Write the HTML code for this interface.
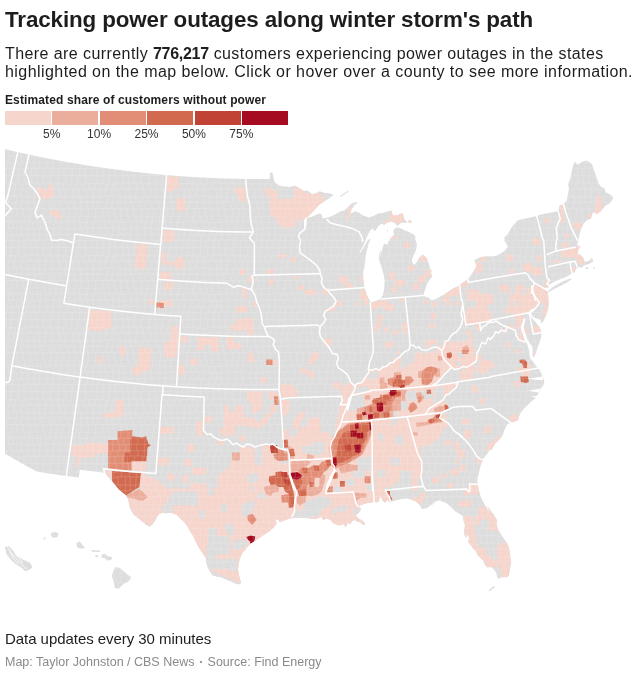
<!DOCTYPE html>
<html><head><meta charset="utf-8"><title>Tracking power outages along winter storm's path</title>
<style>
html,body{margin:0;padding:0;background:#fff;}
body{width:640px;height:675px;position:relative;overflow:hidden;font-family:"Liberation Sans",sans-serif;color:#1d1d1d;}
.abs{position:absolute;white-space:nowrap;}
#title{left:5px;top:6.5px;font-size:22.4px;font-weight:bold;line-height:26px;letter-spacing:-0.125px;}
#d1{left:5px;top:44.4px;font-size:16px;line-height:19px;letter-spacing:0.42px;}
#d1 b{letter-spacing:-0.3px;}
#d2{left:5px;top:62.2px;font-size:16px;line-height:19px;letter-spacing:0.44px;}
#lt{left:5px;top:93px;font-size:12px;font-weight:bold;line-height:14px;letter-spacing:0.12px;}
.sw{position:absolute;top:111.1px;width:46px;height:13.5px;}
.lb{position:absolute;top:127px;width:40px;text-align:center;font-size:12px;line-height:14px;color:#333;}
#f1{left:5px;top:630px;font-size:15px;line-height:18px;letter-spacing:-0.05px;}
#bu{font-size:8px;margin:0 1.7px;position:relative;top:-1.5px;}
#f2{left:5px;top:654.5px;font-size:12.5px;line-height:15px;color:#8a8a8a;}
</style></head><body>
<div class="abs" id="title">Tracking power outages along winter storm's path</div>
<div class="abs" id="d1">There are currently <b>776,217</b> customers experiencing power outages in the states</div>
<div class="abs" id="d2">highlighted on the map below. Click or hover over a county to see more information.</div>
<div class="abs" id="lt">Estimated share of customers without power</div>
<div class="sw" style="left:5.0px;background:#f5d5cc"></div><div class="sw" style="left:52.4px;background:#ecae9c"></div><div class="sw" style="left:99.8px;background:#e28e76"></div><div class="sw" style="left:147.2px;background:#d26a50"></div><div class="sw" style="left:194.6px;background:#c04335"></div><div class="sw" style="left:242.0px;background:#a50c22"></div><div class="lb" style="left:31.7px">5%</div><div class="lb" style="left:79.1px">10%</div><div class="lb" style="left:126.5px">25%</div><div class="lb" style="left:173.9px">50%</div><div class="lb" style="left:221.3px">75%</div>
<svg width="640" height="675" viewBox="0 0 640 675" style="position:absolute;left:0;top:0"><defs><clipPath id="c"><rect x="5" y="140" width="630" height="470"/></clipPath><clipPath id="land"><path d="M-4.5,146.9L6.7,149.6L17.9,152.2L29.2,154.6L40.5,157L51.8,159.2L63.2,161.3L74.5,163.3L85.9,165.2L97.3,167L108.7,168.6L120.2,170.1L131.6,171.5L143.1,172.8L154.6,174L166.1,175L177.6,175.9L189.1,176.7L200.6,177.4L212.1,178L223.6,178.4L235.2,178.7L246.7,178.9L258.2,179L269.8,179L270,172.5L272.5,172.5L273.5,178L275,182.5L280,186L290,187L295,185.5L300,188.5L303.9,190.9L307.8,190.6L311.7,194.1L315.6,193.3L319.5,191.3L323.4,192.5L328.9,193.3L333.6,194.8L329.7,198L323.4,201.9L318.8,205L314.1,210.5L309.4,215.2L306.3,218L311.7,216.7L316.4,214.7L320.3,213.3L321.9,215.2L322.8,218.8L324.2,218L325.8,218L331.3,216.3L336.7,213.6L341.4,210.9L344.5,210.5L347.7,207.3L351.6,203.4L355.5,201.9L358.1,202.3L354.7,205L351.6,208.9L350.3,213.6L352.3,213.1L354.7,211.3L358.6,212.5L362.5,215.2L368.8,217.5L373.4,215.9L378.1,213.6L382.8,213.1L388.3,211.3L391.9,210.6L392.5,215L396.9,215.6L400,213.8L403.1,213.5L403.8,218.1L405.6,220.6L407.5,222.3L405,223L401.3,222.8L398.1,225.4L396.5,225.4L395,223.1L391.3,221.3L386.3,223.1L384,225.3L382.5,223.8L380,224.4L377.5,227.5L375,231.3L372.5,228.8L370,230.6L367.8,235.3L365,241.9L362.2,247.5L359.4,252.7L360.5,252.7L364.1,246.6L367.3,240.9L370.2,238.6L370.2,240L368.7,243.3L367.3,248.4L366.1,253.1L365.5,256.9L365,262.5L364.1,270L363.4,268.8L363.1,278.1L364.4,287.5L367,295.3L369.4,300L371.3,302.7L375.6,300.9L380.3,298.9L382.8,295.3L384.2,289.1L384.7,281.3L383.4,273.4L381.1,265.6L378.8,259.4L379.5,253.1L381.1,250L380,257.5L381.3,252.5L382.5,248.8L383.1,245.6L384.4,243.8L386.3,244L387.5,245L388.3,240L389,242.5L390,238.8L391.9,236.9L394.4,234.4L393.1,231.9L394.4,228.8L396.9,227.3L400,228.1L405,230.6L410,232.5L413.8,234.4L415.6,236.9L415,238.8L416.5,242.5L416.9,246.3L415.6,251.3L413.1,256.3L411.9,260L412.5,263.1L414.4,265L416.9,261.9L419.4,257.5L423.1,254.4L426.9,258.1L428.8,263.8L430.6,270L431.6,268.8L431.1,273.4L432.2,276.6L429.5,279.7L427.2,283.6L424.8,290.6L423.3,295.3L425.6,296.9L428.8,297.7L431.1,300L434.2,299.7L438.1,297.7L442.8,295.3L447.5,292.2L452.2,289.1L456.9,286.7L460,284.4L464.1,282L468,278.9L471.1,275L474.2,270.3L476.6,265.6L475,262.5L474.2,260.2L477.3,258.6L481.3,257L486.7,256.3L492.2,256.6L496.9,255.5L501.6,253.1L504.7,250.8L507.8,246.9L506.6,243.8L504.7,241.4L504.4,237.5L507,235.2L509.4,231.3L511.7,227.3L514.8,223.4L518,220.3L536.7,216.1L540,214.8L558,210.9L560,204.7L561.9,204.7L563.4,203.9L566.6,200.8L567.8,195.3L568.9,189.1L568.1,184.4L570.5,178.1L572,170.3L573.6,164.1L575.2,161.7L577.5,164.8L582.2,161.7L586.1,160.6L590,162.5L592.3,164.8L593.9,170.3L596.3,176.6L598.6,183.6L601.7,187.5L604.1,187.5L605.6,192.2L608.8,193.8L611.1,195.3L613.4,197.7L611.9,200.8L608.8,203.9L605.6,205.5L603.3,208.6L601.7,210.2L600.2,211.7L597.8,213.3L596.6,214.1L595,212.8L593.4,212.2L591.9,215.3L590.8,218.8L588.4,219.5L586.1,221.1L583.8,223.4L582.2,226.6L580.6,230.5L579.8,233.6L579.1,237.5L578.3,239.8L576.7,243.8L577.5,246.9L580,230L579.2,236.3L577.7,240.9L576.9,245.6L580.8,246.4L578.4,249.5L577.7,253.4L581.6,255.8L583.9,258.9L584.7,262L589.4,260.5L591.7,258.1L590.6,255.8L592.5,258.9L593.3,261.3L590.2,263.6L586.3,264.7L583.9,265.2L582.3,267.5L580,267.5L578.4,266.7L576.9,268.3L576.1,269.1L574.5,272.2L572.2,273L570.6,274.5L565.9,276.9L561.3,278.8L556.6,280.8L551.9,283.1L549.5,284.7L548.4,287L548.4,289.4L548,292.5L548.4,297.2L548.8,303.4L548.4,308.1L546.4,314.4L544.1,319.8L541.7,323.8L541.6,323.8L540.5,320L538.1,319.1L535.3,318.1L533,316.7L531.1,313.4L529.7,312L529.1,313.1L530.6,316.3L532.2,318.3L535.6,322.2L539.5,326.9L541.1,331.6L541.6,333.1L541.1,337.8L539.5,342.5L537.2,348.8L535.6,353.4L534.1,356.6L533.3,358.1L532.5,355L532.8,350.3L532.2,346.4L529.4,342.5L527.2,339.4L525.9,334.7L524.4,330.8L523.8,326.9L524.7,322.2L525.2,318.3L523.9,317.5L522.2,323L520.6,326.9L521.1,330.8L523,334.7L524.1,339.4L526.6,342.8L528.1,346.4L529.1,351.1L529.4,355L530.6,359.4L531.7,359.7L535.6,365.2L538.8,369.4L538.9,368.4L541.3,373.4L543.6,378.9L544.4,382.8L542.8,385.9L540.5,388.3L538.9,392.2L536.6,396.9L533.4,400L530.3,402.3L527.2,405.5L524.1,408.6L520.9,412.5L518.6,417.2L518.1,420.3L513.9,421.9L510,422.2L506.9,425L504.5,429.7L503,434.4L501.4,437.5L498.3,440.6L495.2,443.8L492.8,447.7L491.3,450L489.5,450.3L486.4,455L483.3,458.9L481.7,462.8L480.2,467.5L479.1,472.2L477.8,476.9L477.5,481.6L477.8,484.7L479.1,490.9L480.9,497.2L484.1,503.4L487.2,508.9L491.1,514.4L494.2,519.1L496.6,523.8L498.1,530L486.9,505.5L491.6,511.7L495.5,517.2L497,520.3L496.6,525L498.6,530.5L501.7,535.2L504.8,539.8L508,544.5L509.5,550L510.3,556.3L511.1,562.5L510.3,567.2L509.5,571.9L508.8,575.8L507.2,577.3L501.7,577.3L498.6,578.9L497,576.6L496.3,572.7L493.9,569.5L491.6,567.2L486.9,567.2L484.5,564.1L483,560.2L479.1,557L477.5,554.7L475.9,551.6L473.6,549.2L471.3,546.1L468.1,542.2L469.1,538.3L467.8,534.7L466.3,538.3L464.5,535.6L464.2,530.5L465,525.8L463.4,520.3L463.1,516.4L458.8,513.3L455.6,511.7L450.9,507L446.3,503.1L443.4,501.9L439.5,500.3L435.6,501.6L430.9,504.2L426.3,506.6L422.3,507.3L420,505L435.3,503.6L430.6,505.2L426.7,508.3L422,509.1L419.7,505.2L416.6,502L411.9,499.7L407.2,498.4L402.5,498.9L397.8,499.7L393.1,501.3L390,502L386.9,500.5L385.3,502.8L383,501.3L380.9,497.3L379.8,496.9L379.1,501.3L376.7,502.8L374.4,502L369.7,502.8L365,503.6L361.1,505.2L358,505.9L359.5,507.5L361.1,508.3L360.3,510.6L358.8,513L355.6,515.3L358.8,518.4L362.7,520.8L365,523.1L364.2,525.5L361.9,523.9L360.3,522.3L357.2,521.6L354.8,520L352.5,520.8L350.2,523.9L347.8,523.1L346.6,525L345.6,527.5L344.4,525L343.1,523.9L340,525.5L336.7,524.7L332.8,523.1L330.5,520L326.6,518.4L323.4,520L321.1,516.9L318.8,517.7L315.6,519.2L310.9,518.4L304.7,517.7L298.4,517.7L293,517.7L287.5,519.2L283.6,520.8L279.7,522.3L278.1,519.2L275.8,520L276.6,523.9L273.4,527.8L268.8,531.7L264.1,534.8L259.4,538L254.7,541.1L250,544.2L247.3,547L245,550.2L242.7,552.5L241.1,555.6L239.5,560.3L238.4,565L238,569.7L238.8,574.4L240,579.1L241.1,583L238.8,584.5L234.8,583.4L230.9,581.4L226.3,579.8L221.6,577.5L216.9,576.7L212.2,575.2L209.8,571.3L207.5,566.6L206.3,561.9L205.9,558L203.6,554.8L200.5,550.2L197.3,544.7L195,540L192.7,535.3L189.5,530.6L187.2,525.9L184.1,522L180.9,518.9L177.8,515.8L174.7,514.2L170,513.4L177.7,515L173.8,513.4L169.8,512.7L165.9,513.4L162,512.7L158.9,514.2L156.6,517.3L155,521.3L152.7,524.4L149.5,526.7L145.6,524.4L141.7,521.3L137.8,518.1L133.9,515L130.8,510.3L129.2,505.6L128.4,500.2L126.1,495.5L123,493.1L119.1,490L115.2,485.3L111.3,480.6L106.6,475.2L103.4,470.5L104.5,472.7L92.1,471.3L79.8,469.8L78.8,477.6L64.7,475.7L50.7,473.7L36.7,471.5L23.8,464.6L-3.3,449L-13.9,441.5L-47.5,430.8L-20,520L-20,140ZM548.8,290.2L555,285.5L561.3,282.3L565.9,280L570.9,278.4L571.9,278.9L567.5,282.3L561.3,285.5L555,288.6L550.3,291.3L548.4,292.2ZM585.5,267.5L588.1,267.2L588.1,269.1L585.9,269.1ZM592.8,267.8L595,267.5L595,268.6L593.1,268.8ZM408.1,220.6L410,220L411.9,221.9L411.3,223.1L408.8,222.8ZM340,196.3L348.1,190.6L348.8,191.3L340.9,196.9ZM488.4,590.3L493.9,585.9L495,586.9L489.7,591.3ZM386.9,229.8L387.8,229.8L387.8,231.5L386.9,231.5ZM5,547L8.8,546.3L12.5,550L17.5,556.3L23.8,560L30,562.5L32.5,567.5L28.8,570L25,571.3L21.3,567.5L15,563.8L10,558.8L6.3,553.8ZM50.8,533.3L54.5,532L58,533L58.5,535.5L56.3,537.5L52.5,537.5L50.8,535.8ZM43,539.3L45,537L46,537.5L44,539.8ZM75.8,543.8L79.5,541.3L83.8,546.3L85,548L81.3,548.8L77.5,547.5ZM91.3,550L100,550.5L100,552L92,551.8ZM95.5,555L98,555L98,557.5L95.5,557ZM101.3,555L105,553.8L108,556.3L112,557L111.3,560L107.5,560.5L104.5,558L102,558ZM115.5,567L120,568L125,572.5L131.3,577.5L128.8,581.3L123.8,583.8L118.8,588.8L115,588L113.8,582.5L112,576.3L113,571.3Z"/></clipPath><pattern id="m" width="91" height="72" patternUnits="userSpaceOnUse"><path d="M0,0H13V-0.3H26V-0.2H39V-0.2H52V0H65V0.2H78V-0.1H91V0M4.4,0L4.8,6.1M11,0L10.5,6.1M18.2,0L18.1,6.1M24.5,0L24.8,6.1M29.9,0L29.4,6.1M37.3,0L37,6.1M44.9,0L45.3,6.1M50,0L49.7,6.1M56,0L55.8,6.1M61.3,0L61.7,6.1M68.3,0L68.5,6.1M73.4,0L73.8,6.1M79.5,0L79.8,6.1M87.7,0L87.3,6.1M0,6.1H13V6.1H26V6.3H39V6.2H52V6H65V5.8H78V6.3H91V6.1M1.7,6.1L1.5,12.4M8.5,6.1L8.7,12.4M13.8,6.1L13.8,12.4M21.7,6.1L21.4,12.4M27.3,6.1L27.3,12.4M32.6,6.1L32.3,12.4M40.2,6.1L40.3,12.4M46.8,6.1L46.7,12.4M54.1,6.1L53.7,12.4M60.2,6.1L59.8,12.4M69,6.1L69.2,12.4M74.6,6.1L75.1,12.4M80.4,6.1L79.9,12.4M85.7,6.1L85.4,12.4M0,12.4H13V12.2H26V12.7H39V12.2H52V12.2H65V12.9H78V12.4H91V12.4M2.7,12.4L2.3,18.8M9.7,12.4L9.9,18.8M17.1,12.4L16.9,18.8M21.9,12.4L21.6,18.8M28.7,12.4L28.7,18.8M34.6,12.4L34.7,18.8M39.8,12.4L39.8,18.8M45.7,12.4L45.8,18.8M53.3,12.4L53.7,18.8M59.6,12.4L59.7,18.8M67.4,12.4L67.4,18.8M74,12.4L73.6,18.8M81.7,12.4L81.9,18.8M87.1,12.4L87.3,18.8M0,18.8H13V19.1H26V18.4H39V18.7H52V18.6H65V18.3H78V18.2H91V18.8M2.2,18.8L1.9,24.5M7.2,18.8L7.1,24.5M12.3,18.8L12.3,24.5M19.1,18.8L19.1,24.5M26.9,18.8L26.8,24.5M33.1,18.8L33.3,24.5M39.2,18.8L39.3,24.5M47.1,18.8L46.9,24.5M53.3,18.8L53.3,24.5M61.1,18.8L61.1,24.5M68.5,18.8L68.6,24.5M74.6,18.8L74.7,24.5M79.9,18.8L80.1,24.5M86.8,18.8L87.1,24.5M0,24.5H13V24.8H26V24.2H39V24H52V24.8H65V24.7H78V24.6H91V24.5M6,24.5L5.6,31.9M11.7,24.5L11.7,31.9M18.8,24.5L18.4,31.9M23.8,24.5L23.9,31.9M31.3,24.5L31.7,31.9M36.5,24.5L36.6,31.9M43.7,24.5L43.3,31.9M51.6,24.5L51.9,31.9M59.1,24.5L58.6,31.9M64.1,24.5L63.6,31.9M72.1,24.5L72.6,31.9M79.7,24.5L79.7,31.9M85.2,24.5L84.8,31.9M0.3,24.5L0.2,31.9M0,31.9H13V31.3H26V31.4H39V31.9H52V31.4H65V31.5H78V31.6H91V31.9M0.1,31.9L-0.3,39.5M6.1,31.9L6.2,39.5M11.3,31.9L11.4,39.5M18.4,31.9L18.4,39.5M25.3,31.9L25.4,39.5M31.8,31.9L32,39.5M37.2,31.9L37.6,39.5M43.1,31.9L43.2,39.5M50.2,31.9L50.1,39.5M58.3,31.9L58.5,39.5M65.6,31.9L65.8,39.5M71.1,31.9L71.3,39.5M78.1,31.9L77.7,39.5M85.7,31.9L85.7,39.5M0,39.5H13V40.1H26V39H39V39.2H52V39.8H65V40H78V40H91V39.5M4.5,39.5L4.6,45.3M10.4,39.5L10.2,45.3M15.2,39.5L15.4,45.3M22.2,39.5L22.4,45.3M30.3,39.5L30.1,45.3M38.2,39.5L38.6,45.3M46,39.5L45.6,45.3M52.2,39.5L52.3,45.3M57.8,39.5L58.1,45.3M63.6,39.5L63.3,45.3M70,39.5L70.3,45.3M76.9,39.5L76.5,45.3M82.9,39.5L83.4,45.3M89.2,39.5L89.4,45.3M0,45.3H13V45.8H26V44.7H39V45H52V45.2H65V45.9H78V45H91V45.3M2.5,45.3L2.8,52.6M8.2,45.3L8.3,52.6M14.4,45.3L14,52.6M20.9,45.3L20.9,52.6M27,45.3L27.4,52.6M34.3,45.3L34.6,52.6M39.1,45.3L39.1,52.6M45.1,45.3L44.9,52.6M52.7,45.3L53.1,52.6M60.3,45.3L59.9,52.6M65.5,45.3L65.9,52.6M73,45.3L73.3,52.6M79.3,45.3L79.2,52.6M86.5,45.3L86.7,52.6M0,52.6H13V52.1H26V53.1H39V53.2H52V53.1H65V52.6H78V52.8H91V52.6M1.8,52.6L2.1,58.4M8.8,52.6L8.6,58.4M16.6,52.6L16.3,58.4M22.4,52.6L22,58.4M29.2,52.6L28.9,58.4M34.4,52.6L34.3,58.4M39.3,52.6L39.2,58.4M44.5,52.6L44.8,58.4M50.6,52.6L50.8,58.4M57.5,52.6L57.9,58.4M65.1,52.6L65.3,58.4M72.9,52.6L73.4,58.4M80.6,52.6L80.3,58.4M86.9,52.6L86.7,58.4M0,58.4H13V58H26V58.6H39V57.9H52V57.8H65V58.3H78V58.5H91V58.4M1.8,58.4L1.8,64.5M6.8,58.4L6.6,64.5M14.8,58.4L15,64.5M21.1,58.4L20.8,64.5M27.2,58.4L27.1,64.5M34.7,58.4L34.9,64.5M41.7,58.4L41.6,64.5M49,58.4L49.2,64.5M53.8,58.4L54.2,64.5M60.9,58.4L60.7,64.5M68.6,58.4L68.1,64.5M74.5,58.4L74.8,64.5M80.8,58.4L80.6,64.5M87.1,58.4L87.6,64.5M0,64.5H13V64.5H26V65H39V64.9H52V64.7H65V64.2H78V64.8H91V64.5M4.7,64.5L4.8,72M12.2,64.5L12.5,72M16.8,64.5L17.1,72M23.4,64.5L23.3,72M30.5,64.5L30,72M36.8,64.5L36.5,72M43.1,64.5L43.2,72M50.8,64.5L50.8,72M57.2,64.5L57.2,72M62.8,64.5L62.4,72M69.4,64.5L69.5,72M76.4,64.5L76.7,72M82,64.5L81.7,72M88.5,64.5L88.2,72" fill="none" stroke="#fff" stroke-opacity="0.27" stroke-width="0.5"/></pattern></defs><g clip-path="url(#c)"><path fill="#dddddd" d="M-4.5,146.9L6.7,149.6L17.9,152.2L29.2,154.6L40.5,157L51.8,159.2L63.2,161.3L74.5,163.3L85.9,165.2L97.3,167L108.7,168.6L120.2,170.1L131.6,171.5L143.1,172.8L154.6,174L166.1,175L177.6,175.9L189.1,176.7L200.6,177.4L212.1,178L223.6,178.4L235.2,178.7L246.7,178.9L258.2,179L269.8,179L270,172.5L272.5,172.5L273.5,178L275,182.5L280,186L290,187L295,185.5L300,188.5L303.9,190.9L307.8,190.6L311.7,194.1L315.6,193.3L319.5,191.3L323.4,192.5L328.9,193.3L333.6,194.8L329.7,198L323.4,201.9L318.8,205L314.1,210.5L309.4,215.2L306.3,218L311.7,216.7L316.4,214.7L320.3,213.3L321.9,215.2L322.8,218.8L324.2,218L325.8,218L331.3,216.3L336.7,213.6L341.4,210.9L344.5,210.5L347.7,207.3L351.6,203.4L355.5,201.9L358.1,202.3L354.7,205L351.6,208.9L350.3,213.6L352.3,213.1L354.7,211.3L358.6,212.5L362.5,215.2L368.8,217.5L373.4,215.9L378.1,213.6L382.8,213.1L388.3,211.3L391.9,210.6L392.5,215L396.9,215.6L400,213.8L403.1,213.5L403.8,218.1L405.6,220.6L407.5,222.3L405,223L401.3,222.8L398.1,225.4L396.5,225.4L395,223.1L391.3,221.3L386.3,223.1L384,225.3L382.5,223.8L380,224.4L377.5,227.5L375,231.3L372.5,228.8L370,230.6L367.8,235.3L365,241.9L362.2,247.5L359.4,252.7L360.5,252.7L364.1,246.6L367.3,240.9L370.2,238.6L370.2,240L368.7,243.3L367.3,248.4L366.1,253.1L365.5,256.9L365,262.5L364.1,270L363.4,268.8L363.1,278.1L364.4,287.5L367,295.3L369.4,300L371.3,302.7L375.6,300.9L380.3,298.9L382.8,295.3L384.2,289.1L384.7,281.3L383.4,273.4L381.1,265.6L378.8,259.4L379.5,253.1L381.1,250L380,257.5L381.3,252.5L382.5,248.8L383.1,245.6L384.4,243.8L386.3,244L387.5,245L388.3,240L389,242.5L390,238.8L391.9,236.9L394.4,234.4L393.1,231.9L394.4,228.8L396.9,227.3L400,228.1L405,230.6L410,232.5L413.8,234.4L415.6,236.9L415,238.8L416.5,242.5L416.9,246.3L415.6,251.3L413.1,256.3L411.9,260L412.5,263.1L414.4,265L416.9,261.9L419.4,257.5L423.1,254.4L426.9,258.1L428.8,263.8L430.6,270L431.6,268.8L431.1,273.4L432.2,276.6L429.5,279.7L427.2,283.6L424.8,290.6L423.3,295.3L425.6,296.9L428.8,297.7L431.1,300L434.2,299.7L438.1,297.7L442.8,295.3L447.5,292.2L452.2,289.1L456.9,286.7L460,284.4L464.1,282L468,278.9L471.1,275L474.2,270.3L476.6,265.6L475,262.5L474.2,260.2L477.3,258.6L481.3,257L486.7,256.3L492.2,256.6L496.9,255.5L501.6,253.1L504.7,250.8L507.8,246.9L506.6,243.8L504.7,241.4L504.4,237.5L507,235.2L509.4,231.3L511.7,227.3L514.8,223.4L518,220.3L536.7,216.1L540,214.8L558,210.9L560,204.7L561.9,204.7L563.4,203.9L566.6,200.8L567.8,195.3L568.9,189.1L568.1,184.4L570.5,178.1L572,170.3L573.6,164.1L575.2,161.7L577.5,164.8L582.2,161.7L586.1,160.6L590,162.5L592.3,164.8L593.9,170.3L596.3,176.6L598.6,183.6L601.7,187.5L604.1,187.5L605.6,192.2L608.8,193.8L611.1,195.3L613.4,197.7L611.9,200.8L608.8,203.9L605.6,205.5L603.3,208.6L601.7,210.2L600.2,211.7L597.8,213.3L596.6,214.1L595,212.8L593.4,212.2L591.9,215.3L590.8,218.8L588.4,219.5L586.1,221.1L583.8,223.4L582.2,226.6L580.6,230.5L579.8,233.6L579.1,237.5L578.3,239.8L576.7,243.8L577.5,246.9L580,230L579.2,236.3L577.7,240.9L576.9,245.6L580.8,246.4L578.4,249.5L577.7,253.4L581.6,255.8L583.9,258.9L584.7,262L589.4,260.5L591.7,258.1L590.6,255.8L592.5,258.9L593.3,261.3L590.2,263.6L586.3,264.7L583.9,265.2L582.3,267.5L580,267.5L578.4,266.7L576.9,268.3L576.1,269.1L574.5,272.2L572.2,273L570.6,274.5L565.9,276.9L561.3,278.8L556.6,280.8L551.9,283.1L549.5,284.7L548.4,287L548.4,289.4L548,292.5L548.4,297.2L548.8,303.4L548.4,308.1L546.4,314.4L544.1,319.8L541.7,323.8L541.6,323.8L540.5,320L538.1,319.1L535.3,318.1L533,316.7L531.1,313.4L529.7,312L529.1,313.1L530.6,316.3L532.2,318.3L535.6,322.2L539.5,326.9L541.1,331.6L541.6,333.1L541.1,337.8L539.5,342.5L537.2,348.8L535.6,353.4L534.1,356.6L533.3,358.1L532.5,355L532.8,350.3L532.2,346.4L529.4,342.5L527.2,339.4L525.9,334.7L524.4,330.8L523.8,326.9L524.7,322.2L525.2,318.3L523.9,317.5L522.2,323L520.6,326.9L521.1,330.8L523,334.7L524.1,339.4L526.6,342.8L528.1,346.4L529.1,351.1L529.4,355L530.6,359.4L531.7,359.7L535.6,365.2L538.8,369.4L538.9,368.4L541.3,373.4L543.6,378.9L544.4,382.8L542.8,385.9L540.5,388.3L538.9,392.2L536.6,396.9L533.4,400L530.3,402.3L527.2,405.5L524.1,408.6L520.9,412.5L518.6,417.2L518.1,420.3L513.9,421.9L510,422.2L506.9,425L504.5,429.7L503,434.4L501.4,437.5L498.3,440.6L495.2,443.8L492.8,447.7L491.3,450L489.5,450.3L486.4,455L483.3,458.9L481.7,462.8L480.2,467.5L479.1,472.2L477.8,476.9L477.5,481.6L477.8,484.7L479.1,490.9L480.9,497.2L484.1,503.4L487.2,508.9L491.1,514.4L494.2,519.1L496.6,523.8L498.1,530L486.9,505.5L491.6,511.7L495.5,517.2L497,520.3L496.6,525L498.6,530.5L501.7,535.2L504.8,539.8L508,544.5L509.5,550L510.3,556.3L511.1,562.5L510.3,567.2L509.5,571.9L508.8,575.8L507.2,577.3L501.7,577.3L498.6,578.9L497,576.6L496.3,572.7L493.9,569.5L491.6,567.2L486.9,567.2L484.5,564.1L483,560.2L479.1,557L477.5,554.7L475.9,551.6L473.6,549.2L471.3,546.1L468.1,542.2L469.1,538.3L467.8,534.7L466.3,538.3L464.5,535.6L464.2,530.5L465,525.8L463.4,520.3L463.1,516.4L458.8,513.3L455.6,511.7L450.9,507L446.3,503.1L443.4,501.9L439.5,500.3L435.6,501.6L430.9,504.2L426.3,506.6L422.3,507.3L420,505L435.3,503.6L430.6,505.2L426.7,508.3L422,509.1L419.7,505.2L416.6,502L411.9,499.7L407.2,498.4L402.5,498.9L397.8,499.7L393.1,501.3L390,502L386.9,500.5L385.3,502.8L383,501.3L380.9,497.3L379.8,496.9L379.1,501.3L376.7,502.8L374.4,502L369.7,502.8L365,503.6L361.1,505.2L358,505.9L359.5,507.5L361.1,508.3L360.3,510.6L358.8,513L355.6,515.3L358.8,518.4L362.7,520.8L365,523.1L364.2,525.5L361.9,523.9L360.3,522.3L357.2,521.6L354.8,520L352.5,520.8L350.2,523.9L347.8,523.1L346.6,525L345.6,527.5L344.4,525L343.1,523.9L340,525.5L336.7,524.7L332.8,523.1L330.5,520L326.6,518.4L323.4,520L321.1,516.9L318.8,517.7L315.6,519.2L310.9,518.4L304.7,517.7L298.4,517.7L293,517.7L287.5,519.2L283.6,520.8L279.7,522.3L278.1,519.2L275.8,520L276.6,523.9L273.4,527.8L268.8,531.7L264.1,534.8L259.4,538L254.7,541.1L250,544.2L247.3,547L245,550.2L242.7,552.5L241.1,555.6L239.5,560.3L238.4,565L238,569.7L238.8,574.4L240,579.1L241.1,583L238.8,584.5L234.8,583.4L230.9,581.4L226.3,579.8L221.6,577.5L216.9,576.7L212.2,575.2L209.8,571.3L207.5,566.6L206.3,561.9L205.9,558L203.6,554.8L200.5,550.2L197.3,544.7L195,540L192.7,535.3L189.5,530.6L187.2,525.9L184.1,522L180.9,518.9L177.8,515.8L174.7,514.2L170,513.4L177.7,515L173.8,513.4L169.8,512.7L165.9,513.4L162,512.7L158.9,514.2L156.6,517.3L155,521.3L152.7,524.4L149.5,526.7L145.6,524.4L141.7,521.3L137.8,518.1L133.9,515L130.8,510.3L129.2,505.6L128.4,500.2L126.1,495.5L123,493.1L119.1,490L115.2,485.3L111.3,480.6L106.6,475.2L103.4,470.5L104.5,472.7L92.1,471.3L79.8,469.8L78.8,477.6L64.7,475.7L50.7,473.7L36.7,471.5L23.8,464.6L-3.3,449L-13.9,441.5L-47.5,430.8L-20,520L-20,140ZM548.8,290.2L555,285.5L561.3,282.3L565.9,280L570.9,278.4L571.9,278.9L567.5,282.3L561.3,285.5L555,288.6L550.3,291.3L548.4,292.2ZM585.5,267.5L588.1,267.2L588.1,269.1L585.9,269.1ZM592.8,267.8L595,267.5L595,268.6L593.1,268.8ZM408.1,220.6L410,220L411.9,221.9L411.3,223.1L408.8,222.8ZM340,196.3L348.1,190.6L348.8,191.3L340.9,196.9ZM488.4,590.3L493.9,585.9L495,586.9L489.7,591.3ZM386.9,229.8L387.8,229.8L387.8,231.5L386.9,231.5ZM5,547L8.8,546.3L12.5,550L17.5,556.3L23.8,560L30,562.5L32.5,567.5L28.8,570L25,571.3L21.3,567.5L15,563.8L10,558.8L6.3,553.8ZM50.8,533.3L54.5,532L58,533L58.5,535.5L56.3,537.5L52.5,537.5L50.8,535.8ZM43,539.3L45,537L46,537.5L44,539.8ZM75.8,543.8L79.5,541.3L83.8,546.3L85,548L81.3,548.8L77.5,547.5ZM91.3,550L100,550.5L100,552L92,551.8ZM95.5,555L98,555L98,557.5L95.5,557ZM101.3,555L105,553.8L108,556.3L112,557L111.3,560L107.5,560.5L104.5,558L102,558ZM115.5,567L120,568L125,572.5L131.3,577.5L128.8,581.3L123.8,583.8L118.8,588.8L115,588L113.8,582.5L112,576.3L113,571.3Z"/><g clip-path="url(#land)"><path fill="#f5d5cc" d="M130,455.6L146.4,455.6L146.4,470.5L130,470.5ZM103.4,470.5L112.8,470.9L112.8,476.7L108.1,477.5ZM140.9,473.1L158.1,480.6L172.2,493.1L173.8,499.4L165.2,502.5L161.3,508.8L162.8,512.7L149.5,526.7L141.7,521.3L130.8,510.3L126.9,497L142.5,500.9L148,497L139.4,488.8ZM37.5,188L41.3,187L47.5,191.3L48.8,184.5L52.5,184.5L53,191.3L54.5,193.8L51.3,198L43.8,199.5L38.8,196.3ZM48.8,212.5L53.8,209.5L58.8,210L61.3,217.5L58,219.5L53.8,215L50,215.5ZM137,244.5L147.5,245L145.5,268.8L134.5,268ZM167,176.3L178.8,177L178.8,188.8L172.5,189.5L171.3,192.5L167,192.5ZM176.3,198.8L185,198L185.8,211.3L176.3,211.3ZM233.8,187.5L245,187L246.3,201.3L238,201.3L238,193.8L233.8,193ZM265,187.5L271.3,187.5L271.3,190L277.5,190.5L278,198.8L285,199.3L288.8,197L293.8,196.3L295,186.3L301.3,188.8L305,192.5L312.5,193.8L320,193L325,200L320,206.3L310,215L303.8,220L296.3,219.5L295,226.3L290,227.5L282.5,227.5L277.5,223.8L275.5,217.5L270,216.3L270,196.3L265,195.5ZM277,254.5L286.3,253.8L287,257.5L277.5,258ZM290.5,257L296.3,257L296.3,262L290.5,262ZM239.5,269.5L245.5,269.5L245.5,275L239.5,275ZM267,269.5L273.8,269.5L273.8,274.5L267,274.5ZM268,279.5L273.8,279.5L273.8,285L268,285ZM248,276.3L253,276.3L253,282.5L248,282.5ZM292,276.3L297.5,276.3L297.5,278.8L292,278.8ZM298,285L303.8,285L303.8,290L298,290ZM304.5,289.5L316.3,289.5L316.3,295L304.5,295ZM163,230.5L174.5,230.5L174.5,242L163,242ZM161.3,252.5L165.5,252.5L165.5,261.3L175.5,262L175.5,257.5L184.5,257L184.5,268L175.5,268.8L175,265L161.3,264.5ZM160,272L171.3,272L171.3,279.5L160,279.5ZM164.5,282L173,282L173,290L164.5,290ZM241.3,287.5L246.3,287.5L247.5,298.8L243.8,298.8ZM345,220L347.5,211.3L351.3,205.5L353.8,206.3L349.5,215L348,220.5ZM383,221.3L389.5,220L390,211.3L392.5,211.3L393,215L397.5,215L402.5,213L403.8,220L401.3,223L395,223.8L388.8,225L383.8,225ZM407.5,220L411.5,220L411.5,223L407.5,223ZM391.3,236.3L397.5,236.3L397.5,238.8L391.3,238.8ZM403.8,242.5L409.5,242.5L409.5,248L403.8,248ZM418.8,257.5L422.5,253.8L427.5,259.5L426.3,261.3L418.8,261.3ZM407.5,266.3L413.8,265L415,270L408,272ZM389.5,272L395,272L395,280L389.5,280ZM395,280L405,280L405,286.3L395,286.3ZM391.3,287L397,287L397,292L391.3,292ZM412.5,283.8L418.8,282.5L419.5,289.5L413,290ZM417.5,276.3L425,275L425.5,282L418,283ZM425,270L430,270L431.3,277.5L425,277.5ZM338.8,276.3L348,276.3L348,283L338.8,283ZM345,283L352.5,283L352.5,288L345,288ZM361.3,276.3L364.5,276.3L364.5,282.5L361.3,282.5ZM322.5,289.5L327.5,289.5L328.8,294.5L323,294.5ZM361.3,290L366.3,290L368.8,300L362.5,300ZM460,282.5L467.5,278.8L468.8,285L461.3,287.5ZM451.3,287.5L458.8,287.5L458.8,296.3L451.3,296.3ZM444.5,292.5L450,290L451.3,296.3L445,298.8ZM467,289.5L473.8,289.5L475,300L467.5,300ZM476.3,262.5L480,261.3L481.3,272.5L476.3,271.3ZM597,196.3L600,194.5L601.3,202.5L603.8,205.5L599.5,212.5L596.3,215L593.8,212.5L595.5,206.3ZM588,215L592,213.8L593,218L589.5,219.5ZM572.5,223.8L576.3,222L583,223.8L581.3,227.5L577.5,231.3L574.5,227.5ZM559.5,205.5L562.5,205.5L565,222.5L560.5,222.5ZM563.8,232.5L568.8,233.8L570,237.5L564.5,237ZM561.3,243L567.5,242.5L569.5,246.3L562,248ZM544.5,218L549.5,218L549.5,223L544.5,223ZM532.5,238.8L540,238L540.5,245L533,245.5ZM507,254.5L513,254.5L513,261.3L507,261.3ZM480,257L486.3,256.3L486.3,260L480,261.3ZM522.5,265L530,262.5L533.8,267.5L541.3,266.3L542.5,275L536.3,276.3L530,272.5L523.8,271.3ZM536.3,255.5L541.3,255L542,261.3L537,262ZM509.5,270L513.8,268.8L514.5,273.8L510,274.5ZM561.3,251.3L573.8,247L580,246.3L578.8,252.5L582.5,256.3L585,260L581.3,266.3L577.5,262.5L576.3,257.5L567.5,257.5L561.3,257.5ZM552.5,260.5L561.3,259.5L561.3,263L552.5,263ZM572,267.5L575.5,267L576.3,272L572.5,272.5ZM568,269L571.5,268L571.5,270.5L568.5,271ZM480,265L482.5,264.5L482.5,272.5L480,272.5ZM498.8,285L507.5,284.5L511.3,290L505,292.5L500,290ZM515,285L521.3,286.3L523.8,290L530,290L531.3,296.3L525,300L517.5,295ZM510,292.5L517.5,295L521.3,300L510,300ZM533.8,285L540,287.5L545,290L546.3,300L533.8,300ZM545.5,280L548.8,279.5L548.8,285L545.5,286.3ZM537.5,288.8L545.5,287.5L547.5,300L538.8,300ZM89.5,310L111.3,311.3L111.3,323.8L113.8,325L110,328L101.3,331.3L88,330.5ZM118,346.3L122.5,346.3L125.5,350L125,356.3L120.5,356.3L119.5,350ZM97,356.3L101.3,357L103,362.5L98.8,363.8ZM138.8,347.5L151.3,348L150,370L142.5,372.5L136.3,377.5L133.8,373.8L131.3,368.8L137.5,365.5ZM116.3,400L123.8,400L123,416.3L113.8,417.5L103,417.5L102.5,413L114.5,412.5ZM147.5,300L155,300L155,303.5L147.5,303.5ZM160,300L172.5,300L172.5,306.3L160,307ZM236.3,306.3L247.5,305.5L247.5,312L236.3,312.5ZM253,301.3L257.5,301.3L257.5,307L253,307ZM230,324.5L236.3,323.8L236.3,318.8L253,318L253.8,335L247.5,335L247.5,330.5L230.5,330.5ZM171.3,326.3L178.8,326.3L178,341.3L176.3,357.5L163.8,357.5L164.5,342L170,341.3ZM180.5,336.3L187.5,336.3L187.5,342.5L180.5,342.5ZM197.5,337L218.8,337.5L218.8,351.3L211.3,351.3L211.3,345L203.8,345L203.8,350L197.5,350ZM226.3,337.5L233.8,337.5L233.8,343L241.3,343L241.3,348.8L227,349.5ZM247.5,352.5L253,353L254.5,362.5L248,362.5ZM190.5,358.8L197,358.8L197,365.5L190.5,365.5ZM178,365.5L184.5,365.5L184.5,374.5L178,374.5ZM272.5,359.5L277.5,359.5L277.5,364.5L272.5,364.5ZM260.5,377.5L266.3,377.5L266.3,383L260.5,383ZM280,383.8L292.5,384.5L297.5,391.3L297,397L280.5,397ZM312.5,353L318.8,353L318.8,358.8L312.5,362.5L308,361.3ZM300,368L307.5,369.5L310,372.5L314.5,372.5L313.8,377.5L308.8,376.3L303.8,373ZM246.3,391.3L262.5,391.3L262.5,410L258.8,410L255,413.8L251.3,412.5L252,405L247.5,400ZM268,391.3L277.5,391.3L278,396.3L273.8,396.3L272.5,400L268.8,398.8ZM270,405L276.3,405L277,412.5L271.3,413.8ZM223.8,405L228.8,405L229.5,411.3L235,411.3L236.3,405L242.5,405L243.8,417.5L255,417.5L256.3,422.5L265,417.5L267.5,410L271.3,415L267.5,422.5L258.8,428.8L253.8,427.5L245,426.3L236.3,425L235,435L223.8,436.3L220,432.5L219.5,428.8L223.8,427.5ZM205,416.3L211.3,415.5L212,422.5L205,423ZM196.3,421.3L202.5,421.3L202.5,436.3L196.3,436.3ZM160,427L173.8,427L173.8,433.8L160,433.8ZM280.5,400L290,400L288.8,412.5L283.8,417.5L281.3,410ZM298.8,412.5L305,411.3L305,417.5L298.8,422.5L293.8,427.5L292.5,422.5ZM308.8,417.5L320,417.5L321.3,432.5L310,431.3L307.5,425ZM238.8,435L246.3,436.3L246.3,441.3L238.8,441.3ZM217.5,440L223.8,440L223.8,445L217.5,445ZM187,444.5L194.5,444.5L194.5,452L187,452ZM239.5,447.5L252.5,447.5L253.8,461.3L239.5,461.3ZM262,446.3L270,446.3L270,461.3L262,461.3ZM282.5,430L288.8,430L290,438.8L283,438.8ZM288.8,436.3L300,437.5L302.5,450L290,452.5ZM300.5,427.5L307.5,427L308.8,435L301.3,435ZM315,433.8L321.3,433.8L321.3,440L315,440ZM431.4,312.5L435.6,312.5L435.6,318L431.4,318ZM429.1,323.1L434.5,323.1L434.5,328.1L429.1,328.1ZM393.1,330.9L397.5,330.9L397.5,334.7L393.1,334.7ZM403.3,323.4L406.4,323.4L407.2,332.8L403.8,333.1ZM390,342.2L392.3,342.2L392.3,346.9L390,346.9ZM426.3,340.3L436.9,339.8L436.9,343L430.6,344.5L426.3,344.5ZM423.6,300.8L428.3,300.8L428.3,303.1L423.6,303.1ZM432.2,302.3L436.1,302.3L436.1,306.3L432.2,306.3ZM447,300.8L450.2,300.8L450.2,305.5L447,305.5ZM455.6,301.6L460.3,301.6L460.3,304.7L455.6,304.7ZM390,304.7L393.9,304.7L393.9,309.4L390,309.4ZM475.9,299.2L483.8,299.2L483.8,302L475.9,302ZM466.6,308.6L477.5,307L483.8,307.8L490.8,310.9L490.8,320.6L465.8,324.7L463.4,317.2ZM443.9,346.9L446.3,341.9L450.2,340.9L452.5,343.8L457.2,340.6L463.4,343L469.7,338.3L472.8,345.3L475.2,351.6L475.2,360.2L471.3,362.5L466.6,367.2L463.4,366.4L458.8,368.8L454.1,369.5L451.7,367.2L448.6,364.1L444.7,360.2L442.3,355.5L441.6,350.8ZM465.8,330.5L470.8,330.5L470.8,335.2L465.8,335.2ZM470.5,335.9L472.8,335.9L472.8,340.6L470.5,340.6ZM475.6,323.4L479.8,323.4L479.8,330.5L475.9,329.7ZM477.5,365.6L483.8,364.8L484.5,369.5L479.8,373.4L477.5,370.3ZM481.4,360.9L490.8,360.2L490.8,365.6L483.8,364.8ZM471.3,385.2L476.7,385.2L476.7,389.8L471.3,389.8ZM475.2,355.5L482.2,354.7L482.2,359.4L475.6,360.2ZM407.2,365.6L413.4,362.5L415.8,353.1L420.5,352.3L423.6,354.7L428.3,351.6L432.2,353.1L436.9,348.4L441.6,351.3L442.3,355.5L444.7,360.2L448.6,364.1L451.7,367.2L447.8,371.1L443.9,375L440.8,378.9L436.9,382.8L432.2,385.6L421.3,387.2L413.4,388.3L405.6,389.1L396.3,390.3L390,390.9L390,373.4L396.3,368.8L400.9,369.5ZM390,391.4L432.2,386.3L458,382.5L456.4,387.5L452.5,390.6L449.4,393.8L445.5,395.3L443.1,400.8L390,400.8ZM377.3,315.5L382.8,314.7L382.8,319.4L381.3,320.2L381.3,326.4L377.3,326.4L377.3,321.7ZM373.4,326.4L377.3,326.4L377.3,331.9L373.4,331.9ZM383.6,327.2L388.8,327.2L388.8,331.9L383.6,331.9ZM393.8,330.3L398.1,330.3L398.1,335L393.8,335ZM385.2,342L393,341.3L393,347.5L385.2,348.3ZM392.2,357.7L395.3,357.7L396.1,363.1L392.5,363.1ZM396.6,350.9L400.5,350.9L400.5,354.5L396.6,354.5ZM323.4,338.9L332,337.8L332,345.2L328.1,345.9L323.4,340.5ZM312.5,352.5L318.4,352.2L318.4,357.7L314.1,360L311.7,364.7L307.8,363.9L308.6,359.2L312.5,357.7ZM300,368.6L306.3,368.6L309.4,370.9L314.1,371.7L314.1,378L309.4,377.5L305.5,373.3L300,372.5ZM332.8,382.7L339.1,381.9L341.4,386.6L346.9,383.4L350.8,382.7L353.9,385L353.1,392.8L351.6,395.2L346.9,397.5L344.5,395.2L340.6,392.8L339.8,388.9L333.6,388.1ZM343,399.8L346.9,397.5L350,399.1L348.4,403.8L347.7,410.8L340.9,410.8L340.9,405.3ZM354.7,386.6L357,383.4L361.7,382.7L364.1,379.5L366.4,375.6L368.8,372.5L368.4,369.4L371.9,370.2L375.8,368.6L379.7,370.2L382.8,367L386.7,366.3L389.8,363.1L393.8,362.3L396.1,359.2L400.8,356.9L400.8,388.8L371.1,390.3L370.3,391.3L352.3,395.2L353.9,391.3L355.5,387.3ZM352.3,395.6L370.3,391.6L400.8,389.1L400.8,410.8L347.7,410.8L350,399.1ZM290,389.2L297,389.2L297,397L290,397ZM340,390L354.1,390L351.7,394.7L348.6,399.4L347.8,404.8L340,404.8L342.3,400.9L341.6,396.3ZM299.4,411.9L304.8,411.9L304.8,419.7L299.4,419.7ZM293.1,420.5L300.2,420.5L300.2,429.1L293.1,429.1ZM308.8,418.1L315.8,418.1L315.8,425.2L308.8,425.2ZM305.6,425.2L315,425.2L321.3,432.2L327.5,433L330.9,436.9L329.1,443.1L323.6,442.3L302.5,442.3L302.5,452.5L323.6,452.5L330.9,452.5L331.9,458L290,460.3L290,436.9L294.7,436.9L298.6,429.8L305.6,430.6ZM337.7,415L343.1,415.8L341.6,421.3L340,425.9L336.9,431.4L334.5,428.3L336.9,421.3ZM340,425.9L341.6,422L372.5,419.7L372.8,490.8L326.7,490.8L329.1,480.6L331.4,475.2L333.8,471.3L334.5,466.6L332.2,463.4L331.9,458L330.9,452.5L330.3,447L331.4,441.6L334.5,436.9L336.9,431.4ZM372.5,419.7L390.8,418.9L390.8,441.6L383.8,441.6L382.2,452.5L374.4,452.5L372.5,449.4ZM382.2,441.6L390.8,441.6L390.8,449.4L382.2,449.4ZM377.5,463.4L390.8,463.4L390.8,471.3L377.5,471.3ZM158.1,458L169.1,458L169.1,465L158.1,465ZM167.5,473.6L174.5,473.6L174.5,480.6L167.5,480.6ZM173,505.6L180.8,505.6L180.8,513.4L173,513.4ZM217.2,440L223.4,440L223.4,444.7L217.2,444.7ZM239.8,446.3L254.7,447.5L254.7,452.5L262.5,452.5L262.5,445.5L270.3,445L270.3,452.5L273.4,455.6L281.3,463.4L288.3,463.4L289.8,474.4L292.2,480.6L293.8,490.8L218.8,490.8L217.2,482.2L218,475.2L229.7,468.1L229.7,460.3L239.8,460.3ZM200,468.1L206.3,468.1L206.3,474.4L200,474.4ZM168.4,488.4L271.6,488.4L271.6,552.5L248.1,586.9L170,552.5ZM249.2,469.2L350.8,469.2L350.8,532.5L249.2,548.1ZM340,469.2L372,469.2L374.1,502L358,506.3L355.6,502.8L354.8,498.1L353.3,491.9L340,492.7ZM340,492.7L353.3,491.9L355.6,502.8L358,506.3L361.1,508.3L360.3,510.6L358.8,513L355.6,515.3L365,523.1L364.2,526.3L357.2,522.3L352.5,521.6L345.6,528.1L340,526.3ZM374.4,488.8L384.5,485.6L385.3,490.3L386.9,493.4L389.2,496.6L390.3,500.5L386.9,500.5L385.3,503.6L383,501.3L380.9,497.3L379.1,501.3L374.4,502.8ZM377.5,469.2L382.2,469.2L382.2,473.1L377.5,473.1ZM413.4,469.2L417.8,469.2L417.8,484.8L413.4,484.8ZM411.1,498.9L425.2,493.4L425.2,497.3L420.5,505.2L416.6,502L411.9,499.7ZM432.2,477.8L437.7,476.3L440.8,480.9L433.8,483.3ZM380,390L455,390L448.8,394.7L442.5,397.8L434.7,403.3L428.4,407.2L425.3,410.3L426.1,414.2L408.1,417.3L380,418.9ZM428.4,407.2L434.7,403.3L442.5,397.8L445.6,402.5L448.8,405.6L444.1,411.1L441.7,413.4L426.1,414.2L425.3,410.3ZM474.5,389.2L478.4,389.2L478.4,393.1L474.5,393.1ZM408.1,417.8L441.7,413.4L445.6,420.5L449.5,425.9L445.6,427.5L442.5,430.6L439.4,436.9L436.3,441.6L431.6,441.6L431.6,445.5L420.6,446.3L419.1,452.5L413.6,435.3ZM444.8,440L451.1,440L451.1,445.5L444.8,445.5ZM454.2,441.6L458.9,441.6L458.9,449.4L454.2,449.4ZM456.6,449.4L464.4,449.4L465.2,457.2L457.3,457.2ZM459.7,465L465.2,465L465.2,471.3L459.7,471.3ZM450.3,469.7L457.3,468.9L458.1,475.2L451.1,475.2ZM433.1,477.5L438.6,476.7L438.6,483L433.1,483.8ZM442.5,473.6L446.4,473.6L446.4,477.5L442.5,477.5ZM447.2,483L452.7,483L452.7,487.7L447.2,487.7ZM455.8,458.8L458.9,458.8L458.9,463.4L455.8,463.4ZM442.5,413.4L446.4,413.4L447.2,418.9L444.1,420.5ZM462,418.9L469.1,418.9L469.1,424.4L462,424.4ZM464.4,429.8L472.2,431.4L469.8,438.4L463.6,436.9ZM380,431.4L384.7,430.6L389.4,425.9L397.2,425.2L397.2,419.7L408.1,418.1L413.6,435.3L419.1,452.5L405,452.5L405,458.8L400.3,459.5L400.3,471.3L389.4,471.3L386.3,463.4L380,463.4ZM411.3,466.6L419.1,466.6L422.2,463.4L423,477.5L417.5,479.1L417.5,490.8L412,490.8L411.3,475.2ZM380,465L384.7,465L384.7,472.8L380,472.8ZM470,289.4L477.8,289.4L479.4,294.1L493.4,294.1L493.4,303.4L487.2,305L487.2,319.1L470,322.2L470,308.1L476.3,306.6L476.3,297.2L470,295.6ZM498.1,286.3L507.5,284.7L511.4,289.4L507.5,292.5L501.3,291.7ZM515.3,286.3L523.1,284.7L523.9,289.4L530.2,287L531.7,295.6L535.6,297.2L539.5,302.7L535.6,308.1L532.5,311.3L530.2,312.8L516.9,315.2L505.9,312.8L503.6,309.7L509.8,306.6L509.8,295.6L515.3,294.8ZM535.6,286.3L546.6,284.7L548.1,295.6L548.9,301.9L548.1,308.1L546.6,312.8L543.4,319.1L542.7,311.3L545,305L539.5,302.7L535.6,297.2L532.5,292.5ZM533.3,326.1L540.3,326.1L541.1,332.3L533.8,333.1ZM513.8,315.2L521.6,314.4L523.9,317.5L522.3,322.2L520.8,325.3L521.6,330L523.1,333.9L525.5,340.2L523.1,341.7L518.4,339.4L520,331.6L516.9,326.9L515.3,319.1ZM524.7,328.4L528.6,328.4L528.6,333.1L524.7,333.1ZM508.3,324.5L513.8,324.5L514.5,328.4L509.1,328.4ZM503.6,328.4L507.5,328.4L507.5,332.3L503.6,332.3ZM505.9,342.5L510.6,342.5L510.6,347.2L505.9,347.2ZM514.5,349.5L520,350.3L520.8,353.4L515.3,352.7ZM516.9,367.5L523.1,367.5L525.5,368.3L529.4,363.6L530.9,367.5L529.4,370.6L516.9,372.2ZM533.3,351.9L536.4,351.1L535.6,356.6L533.8,356.6ZM475.5,326.1L479.4,325.3L480.2,330.8L475.9,331.3ZM470,331.6L471.6,331.6L471.6,345.6L470,345.6ZM476.3,356.6L481.7,355L482.5,358.1L477,359.7ZM479.4,361.3L485.6,359.7L491.9,361.3L495,365.2L488.8,367.5L480.9,369.1L478.6,365.2ZM470,364.4L474.7,367.5L476.3,372.2L470,373.8ZM470,347.2L473.9,347.2L473.9,353.4L470,353.4ZM470.9,385.9L476.4,385.2L478,392.2L474.1,393L471.3,389.1ZM479.5,398.4L484.5,398.4L484.5,403.9L479.5,403.9ZM513.9,381.3L520.2,381.3L520.2,386.7L517,387.5L513.9,385.2ZM521.7,371.9L530.3,371.1L530.3,376.6L521.7,376.6ZM517,368L524.1,368L528.8,368.8L528.8,371.1L521.7,371.9L517,371.6ZM527.2,362.5L528.8,362.5L529.1,368.8L527.2,368.4ZM509.2,417.2L515.5,412.8L518.6,417.2L518.1,420.3L513.9,421.9L510,421.1ZM461.6,420.3L466.3,418.8L468.6,423.4L463.1,425ZM463.9,431.3L471.7,430.5L470.9,436.7L466.3,439.8L463.9,437.5ZM483.4,428.9L490.5,424.2L491.3,431.3L487.3,433.6L483.4,432.8ZM493.6,440.6L499.1,437.5L501.4,437.5L498.3,443.8L495.2,443.8ZM486.6,445.3L493.6,441.4L495.2,450.8L487.3,450.8ZM460,354.7L466.3,353.1L466.3,357L460,359.4ZM460,362.5L464.7,360.9L475.6,357.8L477.2,354.7L479.5,355.5L478.8,359.4L474.8,361.7L474.1,367.2L470.9,373.4L473.3,375L473.3,378.9L460,380.5L460,370.3L466.3,368.8ZM478,368.8L483.4,367.2L485.8,360.9L492.8,362.5L495.2,367.2L489.7,368.8L485,373.4L478.8,374.2ZM420,430L437.2,430L438.8,434.7L431.7,440.9L429.4,445.6L420,446.4ZM445,440.9L449.7,439.4L452,443.3L447.3,445.6ZM453.6,442.5L458.3,440.9L459.8,448.8L464.5,453.4L465.3,457.3L457.5,458.1L456.3,450.3ZM455.9,458.9L459.1,458.1L459.1,463.6L456.7,464.4ZM459.1,465.2L464.5,465.2L465.3,470.6L459.8,470.9ZM450.5,469.8L454.4,468.3L458.3,471.4L458.3,475.3L451.3,475.3ZM442.7,473.8L446.9,473.8L446.9,478L442.7,478ZM431.7,480L436.4,476.9L438.4,482.3L432.5,483.4ZM446.6,483.1L453.6,482.8L452,488.1L447.8,488.1ZM463.8,430L471.6,430.8L468.4,438.6L464.5,436.3ZM483.3,429.2L488.8,429.2L488.8,433.6L483.3,433.6ZM487.2,444.1L493.4,440.9L498.1,437L502,436.3L498.1,440.9L493.4,445.6L489.5,450.3L487.2,449.5ZM475.5,458.9L480.2,458.9L482.5,459.7L480.2,465.2L477,461.3ZM463.8,489.4L469.7,489.4L469.7,484.7L478.1,484.7L479.1,490.9L479.4,494.1L470,494.4L469.7,495.6L464.1,495.6ZM457.5,501.1L470.8,500.3L471.3,506.6L458.3,506.9ZM477.8,507.3L487.2,508.9L491.1,514.4L494.2,519.1L496.6,523.8L498.1,530.8L488.8,530.8L488.8,519.1L480.2,519.8L475.5,525.3L474.7,515.9L478.6,515.2ZM463,515.9L471.6,515.9L473.9,523.8L474.7,530.8L465.3,530.8L464.5,523.8ZM420,492.5L424.7,492.5L424.7,499.1L420,499.1ZM458,501.6L470.5,500.8L471.3,507L458.8,506.6ZM478.3,507.8L483,507L486.9,505.5L491.6,511.7L495.5,517.2L497,520.3L496.6,525L498.6,530.5L493.9,531.3L493.1,523.4L491.6,519.5L483,519.5L480.6,518L479.8,525.8L475.9,525L475.2,516.4L478.3,514.8ZM463.1,516.4L470.5,517.2L473.6,523.4L473.6,526.6L475.9,536.7L477.5,546.9L486.1,548.4L486.9,556.3L491.6,557L492.3,559.4L497.8,560.2L499.4,567.2L491.6,567.2L486.9,567.2L484.5,564.1L483,560.2L479.1,557L477.5,554.7L475.9,551.6L473.6,549.2L471.3,546.1L468.1,542.2L469.1,538.3L467.8,534.7L465,536.7L464.2,530.5L465,525.8L463.4,520.3ZM497,545.3L502.5,542.2L508,544.5L509.5,550L510.3,556.3L511.1,562.5L510.3,567.2L509.5,571.9L508.8,575.8L507.2,577.3L501.7,577.3L500.2,567.2L497.8,560.2L497,553.1ZM370.9,301.6L388.1,300L388.9,303.9L393.6,303.9L394.4,310.2L389.7,310.9L384.2,309.4L383.4,306.3L371.7,310.2ZM399.8,298.4L403.8,298.4L403.8,301.6L399.8,301.6ZM376.4,315.6L382.7,314.8L383.4,318.8L380.3,319.5L381.9,326.6L378,327.3L376.4,331.3L374.1,331.3L374.1,326.6L377.2,322.7ZM383.4,327.3L388.9,327.3L388.9,331.3L383.4,331.3ZM393.6,330.5L398.3,330.5L398.3,334.4L393.6,334.4ZM402.2,323.1L406.9,323.1L406.9,332.8L402.2,332.8ZM385,342.2L392,342.2L392,346.9L385,346.9ZM360,289.8L365.5,289.8L367.8,296.9L368.6,304.7L364.7,304.7L363.9,300L360,300ZM360.8,276.6L363.1,276.6L363.1,282L360.8,282ZM423.3,300L428.8,300L429.5,303.1L423.8,303.4ZM431.1,302.3L437.3,301.6L437.8,306.3L431.9,307ZM431.1,312.5L435.8,312.5L435.8,318.8L431.1,318.8ZM428.8,322.7L435,322.7L435,328.1L428.8,328.1ZM441.3,298.4L444.4,296.9L447.5,295.3L449.8,300L449.8,305.5L446.7,306.3L445.9,301.6L442,301.6ZM453.8,289.1L460,285.9L460,292.2L455.3,294.5ZM455.3,301.6L460,301.6L460,305.5L455.3,305.5ZM425.6,340.6L436.6,339.8L436.6,343.8L431.1,344.5L430.3,347.7L425.6,347.7ZM445.9,342.2L452.2,342.2L455.3,346.9L460,346.9L460,350.8L447.5,350.8ZM438.9,345.3L444.4,345.3L444.4,350.8L438.9,350.8ZM480.5,257L486.7,257L486.7,260.9L480.5,260.9ZM475.8,262.5L481.3,262.5L482,272.7L475.8,273.4L475,268.8ZM460.2,281.3L465.6,279.7L468.8,284.4L460.2,287.5ZM450,287.5L458.6,286.7L458.6,293.8L454.7,295.3L450,293.8ZM467.2,289.8L473.4,289.8L474.2,293.8L481.3,293.8L492.2,293.8L493,300.8L467.2,300.8ZM161.1,427L173.6,427L173.6,433.3L161.1,433.3ZM196.3,421.6L201.7,421.6L201.7,427.8L196.3,427.8ZM197,427.8L201.7,427.8L202.5,435.6L197,435.6ZM187.2,444.2L194.4,444.2L194.4,451.3L187.2,451.3ZM158,457.8L168.9,457.8L168.9,465.3L158,465.3ZM184.5,459.1L191.6,459.1L191.6,466.6L184.5,466.6ZM191.6,467.7L206.4,467.7L206.4,474.7L191.6,474.7ZM167.3,473.9L174.4,473.9L174.4,480.2L167.3,480.2ZM182.2,474.7L188.4,474.7L188.4,482.5L182.2,482.5ZM218.1,439.5L224.4,440.3L224.4,445L218.1,444.7ZM240.8,520.8L179.1,520.8L172.8,513.8L173.6,505.9L198.6,504.4L197.8,493.4L190,491.9L190,482.5L198.6,484.1L206.4,482.5L207.2,495.8L213.4,495L215,487.2L221.3,489.5L225.2,485.6L221.3,482.5L218.1,476.3L224.4,470L229.8,466.9L232.2,461.4L240.8,459.8ZM140,474.7L146.3,475.5L149.4,480.9L158.8,482.5L160.3,488.8L168.1,491.9L172.8,496.6L165,500.5L161.1,505.9L163.4,512.2L155.6,520.8L140,520.8ZM350.5,395L370,390.6L401.3,390L420.8,387.2L420.8,416.1L341.9,422.3L343.4,415.3L345.8,409.1L347.3,403.6ZM371.6,385.6L385.6,376.3L388.8,369.2L420.8,369.2L420.8,386.9L370,390.3ZM332.5,383.3L339.5,383.3L340.3,387.2L346.6,384.8L351.3,384.1L353.6,390.3L351.3,393.4L348.1,393.4L343.4,391.9L340.3,388.8L333.3,388.4ZM340.3,405.2L346.6,405.2L345.8,409.1L343.4,415.3L341.9,421.6L338,421.6L338,415.3L338.8,409.8ZM320,432.5L329.4,431.7L331.7,438.8L329.7,448.1L320,448.9ZM372.3,429.4L382.5,430.2L393.4,424.7L401.3,424.7L405.2,432.5L410.6,437.2L413.8,443.4L420.8,448.1L420.8,470.8L393.4,470.8L393.4,463.8L388.8,457.5L382.5,457.5L382.5,466.9L372.3,470.8ZM288.9,440L333.4,440L330.3,446.3L331.1,454.1L333.4,459.5L288.9,459.5ZM288.9,459.5L329.5,458.4L333.4,460.3L335,470.5L331.9,475.9L328.8,482.2L326.4,488.4L325.6,493.1L353.8,492.8L354.5,502.5L356.9,510.3L352.2,513.4L344.4,508.8L338.1,505.6L330.3,505.6L319.4,510.3L306.9,510.3L293.6,514.2L293.6,508.8L295.2,502.5L296.7,494.7L295.2,490L292.8,483.8L290.5,477.5L289.7,471.3ZM333.8,300.5L342.5,300.5L342.5,306L333.8,306ZM355.5,302.5L360,302.5L360,306.3L355.5,306.3ZM325,308.8L335,306.3L336.3,310L326.3,312ZM71.3,445L86.3,445L86.3,442.5L108.8,443.8L108.8,453.8L95,453.8L93.8,457.5L80,458L78.8,466.3L76.3,466.3L76.3,456.3L71.3,455ZM373.8,452.5L407.5,452.5L410,465L400,470L400,480L390,487.5L375,487.5Z"/><path fill="#dddddd" d="M455.6,360.9L460.3,360.9L461.1,365.6L456.4,366.4ZM457.2,351.6L463.4,352.3L463.4,357L458.8,357.8ZM405.6,391.9L416.6,390.6L418.1,400.8L406.9,400.8ZM435.3,388.3L443.9,386.7L443.9,400.8L436.1,400.8ZM355.9,388.1L368.8,386.3L368.8,391.3L354.7,394.1ZM369.1,372.5L378.1,370.9L378.1,377.2L371.9,380.6L368.8,378.8ZM351.6,399.4L364.1,397.5L364.1,410.8L348.4,410.8ZM354.1,471.3L363.4,471.3L363.4,477.5L354.1,477.5ZM366.6,483.8L372.5,483.8L372.5,490.8L366.6,490.8ZM377.5,433.8L383,433.8L383,440.8L377.5,440.8ZM254.7,452.5L262.5,452.5L262.5,465L254.7,465ZM246.9,474.4L254.7,474.4L256.3,482.2L246.9,482.2ZM173.1,491.6L198.1,491.6L198.1,505.6L173.1,505.6L173.1,511.9L169.2,513.4L169.2,494.7L173.1,494.7ZM207.5,489.2L213.8,489.2L213.8,495.5L207.5,495.5ZM198.9,511.1L204.4,510.3L205.6,518.1L198.9,518.4ZM220.8,504.1L226.3,504.1L227,510.3L223.9,513.4L220.8,511.1ZM223.9,525.2L230.2,523.1L234.8,528.3L234.1,534.5L230.2,535.3L226.3,532.2ZM208.3,528.3L216.9,528.3L216.9,536.1L229.4,536.1L230.2,548.6L230.2,554.1L216.9,554.1L216.6,558.8L206.3,559.5L206.3,546.3L208.3,546.3ZM206.3,559.5L237.2,558.8L237.5,571.3L230.2,571.3L229.4,568.9L212.2,568.9L209.1,571.3L207.2,566.6ZM241.1,505.6L248.1,501.7L254.4,507.2L251.3,511.9L247.3,517.3L241.9,515.8ZM231.7,541.6L238.8,539.2L246.6,540L248.1,543.9L243.4,547.8L238.8,550.2L231.7,549.1ZM257.5,493.9L264.5,493.9L265.3,497.8L258.3,498.6ZM250,473.1L257.8,473.1L258.6,479.4L253.1,481.7L250,480.9ZM250,485.6L253.1,485.6L253.1,491.1L250,491.9ZM257,493.4L265.6,493.4L265.6,498.1L257,498.1ZM250,501.3L254.7,500.5L254.7,507.5L250,507.5ZM304.7,502.8L315.6,500.5L323.4,496.6L329.7,498.9L331.3,503.6L326.6,507.5L321.9,509.8L318.8,515.3L312.5,516.9L304.7,518.4L293.8,518.4L294.5,512.2L304.7,509.1ZM331.3,509.1L343.8,505.2L345.3,509.1L334.4,514.5ZM333.6,487.2L341.4,486.4L341.4,491.9L334.4,492.7ZM345.5,479.4L352.5,478.6L355.6,484.8L349.4,486.4L345.5,484.8ZM352.5,471.6L365,471.6L365,476.3L352.5,476.3ZM340,506.7L347,505.2L347.8,509.1L342.3,512.2L340,511.9ZM352.5,509.1L360.3,508.3L360.3,513L355.6,515.3L353.3,513ZM396.4,401.7L407.3,400.9L408.1,407.2L401.9,408.8L397.2,407.2ZM389.4,411.9L397.2,411.1L397.2,417.8L389.4,418.1ZM419.8,391.6L426.9,390L433.1,390L433.1,397L426.9,399.4L422.2,397.8ZM433.1,397L439.4,394.7L442.5,397.8L434.7,403.3L431.6,400.9ZM396.4,436.9L403.4,436.9L403.4,444.7L396.4,444.7ZM513.8,301.9L518.4,301.1L520,305L515.3,306.6ZM521.6,289.4L526.3,289.4L526.3,294.8L521.6,294.8ZM221.3,504.4L226.7,504.4L227.5,510.6L224.4,513.8L221.3,511.4ZM199.1,511.4L204.1,510.6L204.8,516.9L199.4,517.7ZM351.3,395.8L363.8,395L364.5,405.9L357.5,407.5L349.7,410.6L348.1,403.6ZM393.4,403.6L407.5,401.3L407.5,409.1L398.1,410.6L393.4,409.1ZM373.1,406.3L376.7,405.9L377,410.9L373.4,411.3ZM357.5,458.3L371.6,456.3L371.6,470.8L357.5,470.8ZM395,435.6L402.8,435.6L402.8,443.4L395,443.4ZM302.2,446.3L311.6,445.5L311.6,441.6L324.8,442.3L324.8,451.7L317.8,455.6L311.6,454.1L303,452.5ZM305.3,500.9L311.6,499.4L319.4,496.3L328.8,497.8L330.3,505.6L319.4,510.3L306.9,510.3L304.5,507.2ZM293.6,511.1L305.3,508.8L317.8,513.4L319.4,516.6L293.6,517.3ZM260,493.9L264.7,493.9L264.7,497L260,497ZM345.9,479.8L353.8,479.1L353.8,485.3L346.7,486.1ZM333.4,487.7L341.3,487.7L341.3,492.3L333.4,492.3ZM353.8,470.5L360.8,470.5L360.8,478.3L353.8,477.5ZM280,190L293.8,190L293.8,198.8L280,198.8ZM377.5,470L385.5,470L385.5,477L377.5,477ZM390.5,457.5L399.5,457.5L399.5,465.5L390.5,465.5Z"/><path fill="#ecae9c" d="M126.1,495.5L139.4,488.8L148,497L142.5,500.9L126.9,497ZM232.5,453L239.5,453L239.5,460.5L232.5,460.5ZM462.7,346.9L467.3,345.3L469.7,350L466.6,353.9L461.9,351.6ZM418.1,371.1L422,371.1L421.3,378.1L418.1,378.1ZM436.9,368L440,368.8L440,376.6L436.9,377.3L433.8,375L437.7,372.7ZM437.7,355.5L441.6,356.3L442.3,360.2L438.4,360.9ZM390,395.6L397,393.8L404.8,392.2L405.6,400.8L390,400.8ZM379.7,378L384.4,377.2L384.4,382.7L387.5,382.7L387.5,388.1L381.3,388.9L379.7,383.4ZM364.8,395.2L370.3,395.2L370.3,399.8L364.8,399.8ZM393.8,372.5L400.8,371.7L400.8,374.8L393.8,377.2ZM392.2,397.5L400.8,395.9L400.8,410.8L392.2,410.8ZM290,449.4L292.8,450.2L292.8,455.6L290,455.6ZM364.2,476.7L369.7,476.7L369.7,482.2L364.2,482.2ZM232,452.5L239.8,452.5L239.8,459.5L232,459.5ZM273.4,453.3L277.8,452.5L278.1,461.1L274.2,458.8ZM287.5,444.7L293.8,449.4L293.8,458.8L289.1,458.8L289.1,454.1ZM354.1,492.7L366.6,493.4L366.6,497.3L360.3,498.1L357.2,500.5L354.1,498.9ZM391.7,396.3L400.3,394.7L401.9,399.4L397.2,400.9L392.5,404.1ZM415.9,393.1L420.6,392.3L424.5,397L422.2,400.9L418.3,403.3L416.7,398.6ZM427.7,390.8L430.8,390L431.6,393.9L428.1,393.9ZM433.9,408.8L440.2,405.6L444.1,406.4L444.1,411.1L441.7,413.4L434.7,412.7ZM415.9,422.8L426.9,422L428.4,419.7L441.7,417.3L442.5,422L434.7,423.6L426.9,425.2L416.7,426.7ZM412.8,432.2L417.5,432.2L417.5,435.3L413.6,435.6ZM232.5,452.8L238.8,452.8L238.8,459.1L232.5,459.1ZM357.5,408.3L364.5,406.7L373.1,403.6L373.1,398.9L382.5,397.3L383.3,395L389.5,391.9L401.3,390L407.5,390L404.4,395.8L398.1,399.7L395,403.6L393.4,411.4L393.4,416.9L356.7,420.8L356.3,414.5ZM409.1,403.6L413.8,402L416.1,406.7L411.4,412.2L408.3,409.1ZM380.2,383.3L383.6,383.3L383.6,389.5L380.2,389.5ZM328.6,448.1L332.5,437.2L336.4,431.7L343.4,427L348.1,423.1L354.7,422.5L372.3,421.6L372.3,432.5L369.7,439.5L366.6,446.6L363.4,453.6L357.5,458.3L350.5,462.2L343.4,465.3L338,467.7L334.8,470L331.7,465.6L330.2,455.2ZM306.9,454.1L313.9,455.6L313.9,459.1L306.9,459.1ZM291.3,461.1L306.9,460.3L311.6,461.9L305.3,467.3L297.5,471.3L291.3,472L290,465ZM306.9,486.9L313.9,482.2L320.2,478.3L322.5,473.6L325.6,475.9L324.1,483.8L321.7,491.6L317,494.7L311.6,496.3L306.1,495.5ZM296.7,496.3L306.1,495.5L305.3,502.5L299.1,505.6L296.7,502.5ZM263.9,486.9L270.9,485.3L274.8,484.5L278.8,486.9L278.8,491.6L272.5,493.1L270.9,496.3L266.3,493.9L264.7,490.8ZM273.3,453.3L279.5,450.2L287.8,450.9L288.1,460.3L278,461.1L277.2,455.6L273.3,455.6ZM283.4,441.3L288.1,441.3L288.1,447L283.4,447ZM338.1,467.3L347.5,463.4L353.8,465L352.2,471.3L341.3,473.6ZM352.2,465L357.7,465L357.7,470.5L352.2,470.5ZM339.7,481.4L345.2,480.9L345.2,486.1L340,486.6Z"/><path fill="#e28e76" d="M108.1,440L131.6,440L131.6,470.5L108.1,469.7ZM117.5,431.3L132.5,430L132,436.3L130,440L130,461.3L110,461.3L110,441.8L117.5,441.3ZM156.3,302.5L160.8,302.5L160.8,307.5L156.3,307.5ZM160,303L163.8,303L163.8,308L160,308ZM266.3,359.5L272.5,359.5L272.5,365L266.3,365ZM273.8,396.3L278,396.3L278.8,405L274.5,405ZM276.3,450L282.5,448.8L285,456.3L277.5,457.5ZM422,371.1L426.7,367.2L431.4,366.4L436.9,368L437.7,372.7L433.8,375L432.2,381.3L427.5,385.2L422,384.4L421.3,378.1ZM396.3,375L401.7,375L401.7,379.7L404.8,379.7L405.6,376.6L410.3,376.6L413.4,381.3L408.8,385.2L402.5,385.9L396.3,382.8ZM387.5,378.8L393.8,377.2L400.8,374.8L400.8,385L393.8,386.6L388.3,385ZM385.2,395.2L389.8,394.4L391.4,399.8L385.9,400.6ZM382,397.5L387.5,396.7L392.2,400.6L392.2,410.8L382.8,410.8ZM277.8,452.5L286.7,453.3L287.5,460.3L278.1,461.1L273.4,455.6ZM282.8,440L287.5,439.2L288.3,444.7L283.6,445.5ZM247.3,515.8L252,513.8L256.3,518.9L252,524.7L247.8,520.5ZM250,515.3L253.1,514.5L256.6,520L252.3,524.7L250,522.3ZM365,476.3L370.5,476.3L370.5,483.3L365,483.3ZM380,394.7L389.4,394.7L391.7,396.3L391.7,405.6L389.4,411.9L383.9,411.9L383.1,411.1L383.1,403.3L380,403.3ZM410.5,404.1L413.6,402.5L416.7,404.8L417.5,408L413.6,411.1L410.5,412.7L408.1,408.8ZM418.3,396.3L422.2,397L420.9,401.7L418.3,402.5ZM433.1,418.1L435.5,415L436.3,418.4L440.6,418.1L441.7,421.3L435,422ZM461.6,350L469.4,350L467.8,353.9L462.3,353.9ZM363.8,407.5L373.1,403.6L373.1,398.9L382.5,397.3L383.3,395L389.5,395L389.5,391.9L395,390.3L401.3,390L401.3,393.4L396.6,395.8L394.2,400.5L391.1,403.6L389.5,411.4L389.5,416.9L384.1,417.7L379.4,417.7L373.9,418.4L373.1,414.1L368.1,414.5L366.9,414.5L365.3,411.4ZM396.6,375.5L401.3,374.7L402,379.4L405.2,380.2L404.4,384.8L399.7,387.2L395,387.2L393.4,384.8L396.6,380.9ZM405.2,377L410.6,376.3L413.8,380.2L409.8,383.3L405.9,381.7ZM329.7,448.1L334.1,437.2L337.2,432.5L343.4,427.8L348.1,423.9L354.7,423.1L371.6,422.3L371.6,432.5L368.4,438.8L365.3,445L362.2,452.8L356.7,457.5L349.7,460.6L343.4,463.8L338,466.1L334.8,468.4L332.5,465.3L330.9,454.4ZM297.5,471.3L303,467.3L308.4,468.1L313.9,465L318.6,465.8L321.7,461.9L327.2,460.3L329.5,459.5L331.1,465L327.2,469.7L322.5,473.6L320.2,478.3L316.3,477.5L313.9,482.2L310.8,481.4L306.9,486.9L306.1,495.5L300.6,496.3L297.5,490L300.3,486.9L303,482.2L300.9,478.3L301.9,475.2ZM270.2,446.3L277.2,446.3L278,452.5L273.3,453.3L270.2,450.9ZM281.1,495.5L288.1,493.9L293.6,491.6L294.4,496.3L293.6,507.2L288.9,508L288.1,502.5L281.9,502.5ZM333.4,440L360.8,440L360.8,455.6L353.8,458.8L347.5,463.4L341.3,465.8L336.6,466.6L334.2,460.3L331.1,454.1L331.1,446.3ZM327.2,486.9L332.7,486.1L332.7,492.3L327.2,492.8Z"/><path fill="#d26a50" d="M131.6,440L147.2,440L148.8,444.7L151.1,445.5L147.2,446.3L147.2,455.6L130.8,455.6L130.8,461.9L124.5,461.9L124.5,452.5L131.6,452.5ZM112,470.9L140.9,473.1L139.4,486.9L126.1,495.5L119.1,490L112,480.9ZM132,436.3L142.5,437.5L146.3,436.3L147.5,443.8L151.3,445L147.5,447.5L146.3,461.3L130,461.3L130,440ZM282.5,440L287.5,440L288,447.5L283,448ZM288.8,449.5L293.8,448.8L295,456.3L289.5,456.3ZM446.6,353.1L451.3,352.3L452.2,356.3L450.2,358.6L447,357.8ZM396.3,378.1L399.4,378.1L404.8,384.4L400.9,387.5L396.3,385.2L393.1,387.5L392.3,383.6ZM426.7,389.8L430.9,389.8L430.9,393.8L426.7,393.8ZM396.1,375.6L400.8,374.8L400.8,380.3L396.6,380.6ZM373.4,399.1L377.3,398.3L378.1,403.8L373.4,403.8L371.9,401.4ZM393,392L400.8,391.3L400.8,395.9L393.8,397.2ZM270.3,445L276.6,447L277.8,452.5L271.1,453.3ZM340,480.9L344.7,480.9L344.7,486.6L340,486.6ZM386.1,491.1L390,491.1L390,495L392.3,498.9L390.3,501.3L389.2,496.6L386.9,493.4ZM383.1,396.3L390.9,396.3L390.9,400.9L387,400.9L387,404.8L383.1,404.8ZM383.9,411.9L389.4,412.7L389.4,417.3L384.7,417.8ZM444.1,404.8L447.2,404.8L449.1,408.8L444.8,410.3ZM428.4,419.7L433.1,418.1L435,421.3L431.6,423.6L428.8,422.8ZM519.7,360L524.7,359.7L526.6,362.8L525.5,368.3L523.1,367.5L522.3,363.6L519.7,362.8ZM520.8,376.9L527,376.9L527,380.8L520.8,380.8ZM520.2,376.6L528,376.6L528.8,382L525.6,383.1L520.9,382ZM519.4,359.7L524.8,359.4L527.2,362.5L526.9,368L524.1,368L523.3,363.8L519.7,362.8ZM373.1,398.9L377.8,398.1L382.5,397.3L382.5,402.8L376.6,403.6L373.1,403.6ZM383.3,395L389.5,395L391.9,395.8L391.1,399.7L385.6,400.5L383.3,398.9ZM373.1,412.2L379.1,411.9L379.4,417.7L373.9,418.4ZM356.7,414.5L361.9,414.1L362.2,419.7L357.2,420.3ZM383.3,411.9L388.8,411.4L389.5,416.9L384.1,417.7ZM369.2,406.7L372.3,406.3L372.8,412.2L369.7,412.5ZM401.3,380.2L405.2,380.2L404.4,384.8L400.9,384.1ZM338.8,440.3L343.4,432.5L349.7,430.9L349.7,424.7L370,422.8L369.7,430.2L366.9,432.5L366.6,438.8L363,443.4L360.9,449.7L359.1,453.6L356.3,454.4L351.3,457.5L346.6,460.6L340.3,463L337.2,463.8L336.4,457.5L337.2,449.7ZM292,479.1L296.7,479.8L300.9,478.3L303,482.2L300.3,486.9L297.5,490L294.7,488.4L292.8,483.8ZM302.2,468.1L306.9,467.8L307.7,472.8L303,473.6ZM313.9,465.8L318.6,465.8L319.4,471.3L314.7,471.3ZM325.6,460.3L330.3,459.5L331.1,465L327.2,466.6ZM297.5,490L306.1,489.2L306.6,495.5L299.1,496.3ZM309.2,481.4L313.9,482.2L313.1,486.9L309.7,486.9ZM269.4,475.9L275.6,475.6L275.6,472L281.9,471.3L283.4,475.2L289.7,475.2L290.5,477.5L292.8,483.8L294.7,488.4L293.6,491.6L288.9,493.9L285,491.6L283.4,486.9L278.8,486.9L274.8,484.5L270.9,485.3L268.6,480.6ZM288.9,493.9L293.6,492.3L294.1,502.5L293.1,507.2L289.4,507.5ZM339.7,440L353.8,440L353.8,444.7L360.8,446.3L360.8,452.5L352.2,455.6L347.5,457.2L344.4,454.1L345.2,447.8L340.5,446.3ZM332.7,473.6L337.3,472L337.8,478.3L332.2,479.1Z"/><path fill="#c04335" d="M270,445.5L277,445L278,452.5L271.3,453ZM399.4,385.2L404.1,384.4L404.8,387.5L400.2,388.3ZM435.5,415L440.2,414.2L440.6,418.1L436.3,418.4ZM400,384.8L404.4,384.8L405.2,387.2L400.5,387.5ZM281.1,472L287.3,472L287.8,477.5L283.4,478.3L281.6,475.9ZM283.4,479.1L288.9,479.8L290.5,485.3L285.8,485.3ZM344.4,444.7L350.6,443.9L351.4,450.9L345.9,451.7ZM332.2,457.2L336.6,456.4L337.3,463.4L334.2,466.6L332.7,461.9Z"/><path fill="#a50c22" d="M390,390.3L396.3,389.8L397,393.8L393.1,395.6L390,395.3ZM389.8,391.3L394.5,389.7L395.6,393.6L391.4,395.6ZM376.9,403L382,402.5L382.5,408.4L377.3,408.8ZM246.3,536.9L250.5,535.6L255.2,536.6L254.4,540.8L251.3,542.3L248.1,540ZM250,536.4L254.7,537.2L253.9,541.9L250,543.4ZM390.2,391.6L395.6,390.8L395.6,394.7L391.7,396.3L389.4,394.7ZM380,403.3L383.1,403.3L383.1,411.1L380,411.9ZM389.5,391.9L395,390.3L395.8,393.4L391.9,395.8L389.5,395ZM376.6,403.6L382.5,402.8L382.8,409.1L380.2,411.9L377,410.9ZM368.1,414.5L373.1,414.1L373.1,419.2L368.1,419.7ZM361.9,412.5L365.3,411.4L366.9,414.5L363,415.6ZM354.7,423.9L358.3,423.1L358.8,428.6L355.2,429.1ZM369.2,422.3L371.3,422.3L371.6,430.2L369.7,430.2ZM350.5,430.9L356.7,430.2L356.7,436.4L350.9,436.9ZM356.7,433.3L363,432.5L363.4,438.4L357.2,438.8ZM354.1,445L360.3,444.2L360.9,449.7L359.1,453.6L355.9,451.3L354.4,448.1ZM333.3,458.3L336.4,457.5L337.2,463.8L334.8,467.7L332.8,463.8ZM290.5,472.8L297.5,472L301.9,475.2L300.9,478.3L296.7,479.8L292,479.1ZM353.8,444.7L360.8,444.4L360.8,451.7L355.3,452.2Z"/><path fill="#f5d5cc" d="M314.4,477.8L319.8,478.6L319.1,486.6L315,487.2Z"/><rect x="0" y="140" width="640" height="470" fill="url(#m)"/></g><path fill="#fff" d="M542.8,376.6L535,377.7L528,378.6L535,379.8L543.1,380.3ZM539.7,388.8L533.4,389.7L528.8,390.6L533.4,391.7L538.9,392.5ZM537.3,395.8L531.1,396.6L536.6,397.8Z"/><path fill="none" stroke="#fff" stroke-width="0.8" d="M7.5,547.5L13.8,556.3L20,562.5L26.3,568.8M10,551.3L12.5,557.5L18.8,565M15,553.8L22.5,562.5"/><path fill="none" stroke="#fff" stroke-width="1.5" stroke-linejoin="round" stroke-linecap="round" d="M17.8,152.1L7.8,195.8L5.5,202.5L11.3,208.8L7.5,213L4.5,216.5M28.9,154.6L25,172L28,177.5L29.5,184.5L33.8,188.8L37.5,193.8L40,198.8L37.5,205.5L35,212.5L37,218L41.3,215L45,222.5L47.5,230L50,234.5L51.3,240L56.3,240.5L61.3,239.5L66.3,240.5L72,242.5M74.9,233.9L87.1,235.8L99.3,237.5L111.5,239.2L123.8,240.7L136,242L148.3,243.3L160.6,244.4L154.7,314.4L141.7,313.2L128.7,311.9L115.7,310.5L102.7,308.9L89.8,307.2L76.8,305.3L63.9,303.3L74.9,233.9M166.6,175.1L160.8,244.4M162.1,228L173.5,228.9L184.8,229.7L196.2,230.4L207.6,231L218.9,231.4L230.3,231.8L241.7,232L253.1,232.1M-33.8,265.5L-21.3,268.5L-8.8,271.4L3.7,274.2L16.2,276.8L28.8,279.3L41.4,281.6L54,283.8L66.7,285.9M28.7,279.2L11.9,365.8M11.9,365.8L25.1,368.3L38.3,370.6L51.6,372.8L64.8,374.9L78.1,376.8L91.4,378.6L104.8,380.2L118.1,381.8L131.5,383.1L144.8,384.4L158.2,385.5L171.6,386.5L185,387.3L198.4,388L211.8,388.5L225.3,389L238.7,389.3L252.1,389.4L265.6,389.4L279,389.3M11.9,365.8L10,380L8,382.5L3,382M89.7,307.2L80.1,377.1L66.4,475.9M89.7,307.2L102.7,308.9L115.7,310.5L128.7,311.9L141.7,313.2L154.7,314.4L167.8,315.4L180.8,316.3L176.5,386.8M179.7,333.9L192.5,334.7L205.2,335.3L218,335.8L230.7,336.2L243.5,336.4L256.3,336.5L269.1,336.5M163.2,385.9L162.6,394.7L162,394.6L155.8,473.6L142.7,472.6L129.7,471.4L116.6,470.1L103.6,468.7L104.5,472.7M162.6,394.7L176.5,395.6L190.4,396.4L204.3,397.1L203.4,430.6L207,434.5L210.9,434.1L214.8,437.7L219.5,440L223.4,440.3L226.6,439.2L229.7,440.8L232.8,444.7L236.7,443.1L239.8,445.5L243.8,447L246.9,443.9L250.8,444.7L254.7,447L258.6,445.9L262.5,444.7L266.4,443.9L270.3,444.7L272.7,443.9L276.6,447L281.3,449.1L283.6,449.4L287.5,450.2L289.1,454.1L289.4,460.3L289.8,474.4L292.2,480.6L293.8,490L289.8,476.3L293,483.3L295.3,488.8L296.6,493.4L295.3,499.7L294.5,505.9L294.5,511.4L291.9,516.6M279,389.3L280.5,398.6L282,421.3L283.6,449.4M279,389.3L279.4,360L278.6,352.2L275.5,349.1L273.1,344.4L274.7,340.5L272.3,338.1L268.4,336.3L266.1,331.9L264.5,327.2L262.5,324.1L261.9,319.4L260.9,313.1L259.1,306.9L256.7,302.2L255.2,295.9L252.8,291.3L251.3,288.9L252.5,285L253.1,280.3L252,276.4L254.1,275.3L254.4,260L254.4,243.3L249.5,238L253.1,232.1M157.7,279.3L169.2,280.3L180.7,281.1L192.2,281.8L203.8,282.4L215.3,282.8L226.9,283.2L227.8,283.8L234.1,287.3L237.2,285.8L241.9,286.6L246.6,288.1L251.3,289.7L252.8,291.3M245.6,178.9L246.4,187.6L247.5,196.3L249.8,205L250.1,213.6L250.9,222.4L253.1,231.1L253.1,232.1M254.1,275.3L259.9,274.9L272,274.8L284,274.6L296.1,274.3L308.1,273.9L320.2,273.4M264.5,326.7L270.4,326.2L281.8,326.1L293.3,325.8L304.7,325.5L316.1,325L317.2,324.8L320.3,326.9M306.3,218L305.5,226.9L304.8,220L304.8,229.4L299.4,233.3L298.6,237.2L300.6,240.3L299.4,246.6L300.2,252.8L305.6,256.7L311.9,261.4L316.6,265.3L319.7,270L320.5,274.7L322,278.6L321.3,282.5L323.6,287.2L327.5,290.3L331.4,295L334.5,298.1L336.1,301.3L333.8,305.9L329.1,309.1L325.2,311.4L323.6,315.3L325.8,319.4L323.4,323.3L320.3,326.4L319.5,331.9L320.3,336.6L323.4,340.5L327.3,345.2L330.5,349.8L332.8,353.8L337.5,354.5L338.3,358.4L336.7,363.1L338.3,367.8L343,370.9L346.9,374.1L349.2,378L350.8,382.7L353.9,385L355.5,387.3L353.9,391.3L351.6,395.2L350,399.1L348.4,403.8L347.7,410L351.7,394.7L348.6,399.4L347.8,404.8L345.5,410.3L343.1,415.8L341.6,421.3L340,425.9L336.9,431.4L334.5,436.9L331.4,441.6L330.3,447L330.9,452.5L331.9,458L332.2,463.4L334.5,466.6L333.8,471.3L331.4,475.2L329.1,480.6L327.5,485.3L326.7,490L335.2,470L331.3,476.3L328.1,482.5L326.6,487.2L325.8,493.4L353.3,491.9L354.8,498.1L355.6,502.8L358,506.3M327.5,290.3L365,287.5M326.9,219.5L330.6,223.1L336.9,224.7L344.7,226.6L352.5,228.6L358.8,231.7L361.1,235.6L362.7,240.3L362.2,241.6M280.5,399.1L290,397.8L315,397L341.6,396.3L342.3,400.9L340,404.8L347,404.4M289.4,460.3L290,460.3L310.3,459.4L331.9,458.3M370.2,302.8L373.1,344.4L373.4,350.6L371.9,356.9L369.5,363.1L368.4,369.4M354.7,386.6L357,383.4L361.7,382.7L364.1,379.5L366.4,375.6L368.8,372.5L368.4,369.4L371.9,370.2L375.8,368.6L379.7,370.2L382.8,367L386.7,366.3L389.8,363.1L393.8,362.3L396.1,359.2L400,356.9L400.9,355.5L404.8,351.6L408.8,350L410.3,345.3L413.4,345.3L415.8,347.7L418.9,346.9L422,350L426.7,350.3L430.6,348.4L434.5,346.9L438.4,347.7L441.6,350.8L443.9,346.9L445.5,341.4L448.6,340.3L450.2,336.7L453.3,333.6L456.4,332L459.5,328.1L461.9,323.4L462.7,318.8L461.1,314.1L461.9,309.4L462.3,304.7M381.1,299.1L405.3,296.9L423.3,295.5M405.3,296.9L405.6,300L410.3,345M459.7,285.6L461.3,300L462.2,300L465.8,325M465.8,325L490,321.1L490,320.3L529.1,312.8L531.3,310L533.8,309.1M529.1,312.8L533.3,333.9L541.6,332.8M479.7,322.5L480.6,330.8L482.5,326.9L485.6,325.3L489.5,321.9L493.4,322.5L495.8,320.9L501.3,324.5L504.4,326.1L507.5,326.9L512.2,329.2L515.3,330L516.1,334.7L518.4,339.4L523.1,341.7L525.5,341.7M507.5,326.9L505.2,331.6L501.3,330L498.1,333.1L495.8,331.6L493.4,336.3L490.3,339.4L488,337.8L485.6,344.1L481.7,342.5L479.4,348.8L477,353.4L476.3,361.3L471.6,364.4L466.6,367.2L463.4,366.4L458.8,368.8L454.1,369.5L451.7,367.2M441.6,350.8L442.3,355.5L444.7,360.2L448.6,364.1L451.7,367.2M451.7,367.2L447.8,371.1L443.9,375L440.8,378.9L436.9,382.8L433,385.2L432.2,385.9M352.3,395.2L370.3,391.3L371.1,390.3L400,388.8L432.2,385.9L458,382.2M458,381.7L490,377.3L491.3,376.6L538.9,368M458,382.2L456.4,387.5L452.5,390.6L449.4,393.8L445.5,395.3L443.1,400L428.7,408.8L425.3,414.7M341.6,422L352.1,421.5L365,420.6L377.9,419.5L390.8,418.3L403.7,417L416.6,415.6L429.5,414L442.3,412.3M371.3,419.7L372,427.5L372.5,490L372,470L374.1,502M407.2,417L417.4,453.2L420,458.1L421.6,461.3L421.9,469.1L420.8,476.9L422.3,483.1L423.9,487L426.3,490.6L466.9,489.1L468.4,491.7L469.7,490.9L469.7,483.9L478.1,484.4M423.9,487L421.3,486.4L385.3,490.3L386.9,493.4L389.2,496.6L390.3,500.5M325.8,493.4L340,492.7L353.3,491.9M442.3,412.3L439.6,418L448.2,423.1L453.6,430.3L462.3,436.7L452.8,430L459.1,434.7L465.3,440.2L470,445.6L473.9,451.1L477,456.6L480.2,458.9L483.3,459.2M442.3,412.3L453.2,407.2L460,406.6L472.5,406.3L475.6,410.2L491.3,408.6L510,422.2M468,279.7L468.4,282.5L496.9,277.3L525,272.7L528.1,275L529.7,278.1L533.6,282L534.4,282.8L532.8,287.5L531.3,292.2L534.4,295.3L535.2,300L531.7,286.3L532.5,292.5L535.6,297.2L539.5,302.7L535.6,308.1L532.5,311.3L530.2,312.8M534.4,282.8L547.7,290.6L546.4,288.1L548.4,289.4M536.7,216.1L538.3,221.9L540.6,231.3L542.2,237.5L543.8,241.4L544.5,253.1L545.3,265.6L546.9,278.1L549.5,280L546.9,283.9L549.5,285.5M558,210.9L560.3,218.8L558,223.4L556.4,228.1L557.2,237.5L555.8,244.1L555.8,251.1M563.4,203.9L565.8,212.5L571.3,228.1L577.5,240.3M547.5,254.2L555.8,251.1L575.3,247.2M548.4,266.7L569.8,262L575.3,261.3L576.9,266.7M569.8,262L571.9,273"/></g></svg>
<div class="abs" id="f1">Data updates every 30 minutes</div>
<div class="abs" id="f2">Map: Taylor Johnston / CBS News <span id="bu">•</span> Source: Find Energy</div>
</body></html>
